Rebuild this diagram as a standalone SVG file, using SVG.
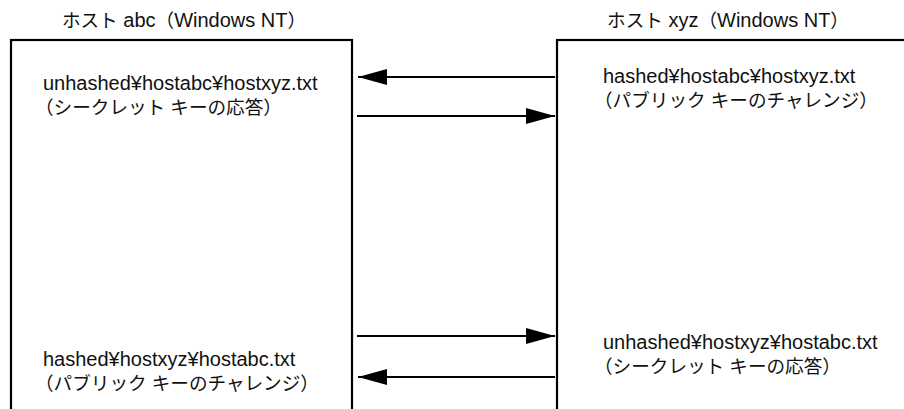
<svg xmlns="http://www.w3.org/2000/svg" width="904" height="409" viewBox="0 0 904 409">
  <defs>
    <style>
      .t { font-family: "Liberation Sans", "Noto Sans CJK JP", sans-serif; font-size: 20px; fill: #111; }
      .j { font-size: 18.6px; }
      .box { fill: none; stroke: #000; stroke-width: 2.2; }
      .conn { stroke: #000; stroke-width: 2; fill: none; }
    </style>
    <marker id="ah" viewBox="0 0 29 16" refX="29" refY="8" markerWidth="29" markerHeight="16" markerUnits="userSpaceOnUse" orient="auto">
      <path d="M0,0 L29,8 L0,16 Z" fill="#000"/>
    </marker>
  </defs>
  <rect width="904" height="409" fill="#fff"/>
  <g id="host-abc">
    <text class="t" x="184" y="27" text-anchor="middle"><tspan class="j">ホスト</tspan> abc<tspan class="j">（</tspan>Windows NT<tspan class="j">）</tspan></text>
    <rect class="box" x="11" y="40" width="341" height="420"/>
  </g>
  <g id="host-xyz">
    <text class="t" x="728" y="27" text-anchor="middle"><tspan class="j">ホスト</tspan> xyz<tspan class="j">（</tspan>Windows NT<tspan class="j">）</tspan></text>
    <rect class="box" x="557" y="40" width="400" height="420"/>
  </g>
  <g id="abc-unhashed">
    <text class="t" x="43" y="90">unhashed¥hostabc¥hostxyz.txt</text>
    <text class="t j" x="35" y="114">（シークレット キーの応答）</text>
  </g>
  <g id="xyz-hashed">
    <text class="t" x="603" y="83">hashed¥hostabc¥hostxyz.txt</text>
    <text class="t j" x="594" y="107">（パブリック キーのチャレンジ）</text>
  </g>
  <g id="abc-hashed">
    <text class="t" x="43" y="366">hashed¥hostxyz¥hostabc.txt</text>
    <text class="t j" x="35" y="390">（パブリック キーのチャレンジ）</text>
  </g>
  <g id="xyz-unhashed">
    <text class="t" x="603" y="349">unhashed¥hostxyz¥hostabc.txt</text>
    <text class="t j" x="594" y="373">（シークレット キーの応答）</text>
  </g>
  <g id="connectors">
    <line class="conn" x1="555" y1="77" x2="358" y2="77" marker-end="url(#ah)"/>
    <line class="conn" x1="357" y1="116" x2="555" y2="116" marker-end="url(#ah)"/>
    <line class="conn" x1="357" y1="336" x2="555" y2="336" marker-end="url(#ah)"/>
    <line class="conn" x1="555" y1="377" x2="358" y2="377" marker-end="url(#ah)"/>
  </g>
</svg>
